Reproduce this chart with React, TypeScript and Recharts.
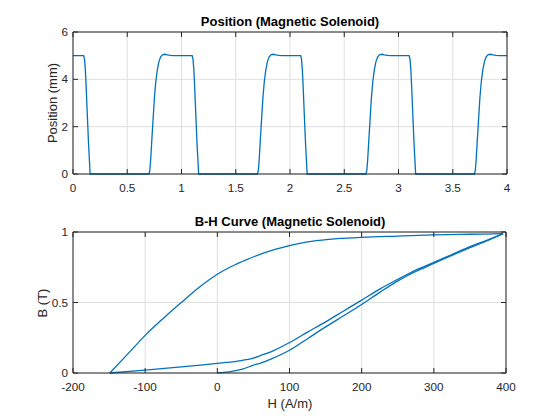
import React from "react";
import { LineChart, Line, XAxis, YAxis, CartesianGrid } from "recharts";

// Position (mm) over time (s)
const POSITION_POINTS: [number, number][] = [
  [0, 5.0], [0.098, 5.0], [0.106, 4.85], [0.114, 4.4], [0.122, 3.6], [0.131, 2.6], [0.143, 1.3], [0.158, 0],
  [0.7, 0], [0.708, 0.15], [0.716, 0.6], [0.726, 1.4], [0.738, 2.3], [0.75, 3.2], [0.763, 3.9], [0.777, 4.4],
  [0.792, 4.75], [0.808, 4.95], [0.825, 5.04], [0.845, 5.06], [0.87, 5.03], [0.9, 5.01], [0.93, 5.0],
  [1.098, 5.0], [1.106, 4.85], [1.114, 4.4], [1.122, 3.6], [1.131, 2.6], [1.143, 1.3], [1.158, 0],
  [1.7, 0], [1.708, 0.15], [1.716, 0.6], [1.726, 1.4], [1.738, 2.3], [1.75, 3.2], [1.763, 3.9], [1.777, 4.4],
  [1.792, 4.75], [1.808, 4.95], [1.825, 5.04], [1.845, 5.06], [1.87, 5.03], [1.9, 5.01], [1.93, 5.0],
  [2.098, 5.0], [2.106, 4.85], [2.114, 4.4], [2.122, 3.6], [2.131, 2.6], [2.143, 1.3], [2.158, 0],
  [2.7, 0], [2.708, 0.15], [2.716, 0.6], [2.726, 1.4], [2.738, 2.3], [2.75, 3.2], [2.763, 3.9], [2.777, 4.4],
  [2.792, 4.75], [2.808, 4.95], [2.825, 5.04], [2.845, 5.06], [2.87, 5.03], [2.9, 5.01], [2.93, 5.0],
  [3.098, 5.0], [3.106, 4.85], [3.114, 4.4], [3.122, 3.6], [3.131, 2.6], [3.143, 1.3], [3.158, 0],
  [3.7, 0], [3.708, 0.15], [3.716, 0.6], [3.726, 1.4], [3.738, 2.3], [3.75, 3.2], [3.763, 3.9], [3.777, 4.4],
  [3.792, 4.75], [3.808, 4.95], [3.825, 5.04], [3.845, 5.06], [3.87, 5.03], [3.9, 5.01], [3.93, 5.0], [4.0, 5.0],
];

// B-H loop (H in A/m, B in T), each branch listed by increasing H
const INITIAL_CURVE: [number, number][] = [
  [0, 0], [20, 0.012], [35, 0.028], [50, 0.056], [60, 0.07], [75, 0.1], [100, 0.161], [125, 0.243],
  [150, 0.327], [175, 0.406], [200, 0.486], [225, 0.572], [252, 0.659], [275, 0.72], [300, 0.777],
  [325, 0.834], [350, 0.889], [375, 0.94], [396, 0.988],
];
const DESCENDING_BRANCH: [number, number][] = [
  [-149, 0], [-125, 0.13], [-100, 0.267], [-75, 0.387], [-50, 0.5], [-25, 0.608], [0, 0.7], [20, 0.757],
  [40, 0.803], [60, 0.843], [80, 0.876], [100, 0.904], [125, 0.93], [155, 0.948], [200, 0.962],
  [250, 0.971], [300, 0.979], [350, 0.984], [396, 0.988],
];
const RETURN_BRANCH: [number, number][] = [
  [-149, 0], [-100, 0.02], [-50, 0.043], [0, 0.068], [35, 0.09], [50, 0.106], [60, 0.124], [75, 0.152],
  [100, 0.216], [125, 0.29], [150, 0.363], [175, 0.44], [200, 0.517], [225, 0.595], [252, 0.67],
  [275, 0.73], [300, 0.784], [325, 0.84], [350, 0.896], [375, 0.945], [396, 0.988],
];

const TIME_TICKS = [0, 0.5, 1, 1.5, 2, 2.5, 3, 3.5, 4];
const POSITION_TICKS = [0, 2, 4, 6];
const H_TICKS = [-200, -100, 0, 100, 200, 300, 400];
const B_TICKS = [0, 0.5, 1];

const positionData = POSITION_POINTS.map(([t, y]) => ({ t, y }));
const toBH = (pts: [number, number][]) => pts.map(([h, b]) => ({ h, b }));
const initialData = toBH(INITIAL_CURVE);
const descendingData = toBH(DESCENDING_BRANCH);
const returnData = toBH(RETURN_BRANCH);

const AXIS = "#262626";
const GRID = "#dfdfdf";
const BLUE = "#0072BD";
const FONT = "Arial, 'Liberation Sans', sans-serif";
const tickStyle = { fontSize: 11.7, fill: AXIS, fontFamily: FONT };
const blank = () => "";

function Title({ text, top }: { text: string; top: number }) {
  return (
    <div
      style={{
        position: "absolute", left: 73, width: 434, top, textAlign: "center",
        fontSize: 13, fontWeight: "bold", color: "#000", fontFamily: FONT, lineHeight: "15px",
      }}
    >
      {text}
    </div>
  );
}

function YLabel({ text, cx, cy }: { text: string; cx: number; cy: number }) {
  return (
    <div
      style={{
        position: "absolute", left: cx - 100, top: cy - 8, width: 200, height: 16, lineHeight: "16px",
        textAlign: "center", transform: "rotate(-90deg)", fontSize: 13, color: AXIS, fontFamily: FONT,
      }}
    >
      {text}
    </div>
  );
}

export default function App() {
  return (
    <div style={{ position: "absolute", left: 0, top: 0, width: 560, height: 420, background: "#fff" }}>
      <Title text="Position (Magnetic Solenoid)" top={14} />
      <YLabel text="Position (mm)" cx={53} cy={103} />
      <div style={{ position: "absolute", left: 0, top: 0 }}>
        <LineChart width={560} height={210} data={positionData} margin={{ top: 31, right: 52, bottom: 0, left: 0 }}>
          <CartesianGrid stroke={GRID} />
          <XAxis dataKey="t" type="number" domain={[0, 4]} ticks={TIME_TICKS} height={36}
            tickSize={-5} tickMargin={14.5} stroke={AXIS} tick={tickStyle} interval={0} />
          <XAxis xAxisId="top" dataKey="t" orientation="top" type="number" domain={[0, 4]} ticks={TIME_TICKS} height={1}
            tickSize={-5} stroke={AXIS} tickFormatter={blank} interval={0} />
          <YAxis type="number" domain={[0, 6]} ticks={POSITION_TICKS} width={73}
            tickSize={-5} tickMargin={10} stroke={AXIS} tick={tickStyle} interval={0} />
          <YAxis yAxisId="right" orientation="right" type="number" domain={[0, 6]} ticks={POSITION_TICKS} width={1}
            tickSize={-5} stroke={AXIS} tickFormatter={blank} interval={0} />
          {/* invisible copy so the box axes (top/right) get a domain */}
          <Line xAxisId="top" yAxisId="right" dataKey="y" stroke="none" dot={false} activeDot={false}
            legendType="none" isAnimationActive={false} />
          <Line dataKey="y" type="linear" stroke={BLUE} strokeWidth={1.3} dot={false} isAnimationActive={false} />
        </LineChart>
      </div>

      <Title text="B-H Curve (Magnetic Solenoid)" top={214} />
      <YLabel text="B (T)" cx={43} cy={302.5} />
      <div
        style={{
          position: "absolute", left: 73, width: 434, top: 396, textAlign: "center",
          fontSize: 13, color: AXIS, fontFamily: FONT, lineHeight: "15px",
        }}
      >
        H (A/m)
      </div>
      <div style={{ position: "absolute", left: 0, top: 210 }}>
        <LineChart width={560} height={210} margin={{ top: 21, right: 53, bottom: 0, left: 0 }}>
          <CartesianGrid stroke={GRID} />
          <XAxis dataKey="h" type="number" domain={[-200, 400]} ticks={H_TICKS} height={47}
            tickSize={-5} tickMargin={14.5} stroke={AXIS} tick={tickStyle} interval={0} allowDuplicatedCategory={false} />
          <XAxis xAxisId="top" dataKey="h" orientation="top" type="number" domain={[-200, 400]} ticks={H_TICKS} height={1}
            tickSize={-5} stroke={AXIS} tickFormatter={blank} interval={0} />
          <YAxis type="number" domain={[0, 1]} ticks={B_TICKS} width={73}
            tickSize={-5} tickMargin={10} stroke={AXIS} tick={tickStyle} interval={0} />
          <YAxis yAxisId="right" orientation="right" type="number" domain={[0, 1]} ticks={B_TICKS} width={1}
            tickSize={-5} stroke={AXIS} tickFormatter={blank} interval={0} />
          <Line xAxisId="top" yAxisId="right" data={initialData} dataKey="b" stroke="none" dot={false}
            activeDot={false} legendType="none" isAnimationActive={false} />
          <Line data={initialData} dataKey="b" type="monotoneX" stroke={BLUE} strokeWidth={1.3} dot={false} isAnimationActive={false} />
          <Line data={descendingData} dataKey="b" type="monotoneX" stroke={BLUE} strokeWidth={1.3} dot={false} isAnimationActive={false} />
          <Line data={returnData} dataKey="b" type="monotoneX" stroke={BLUE} strokeWidth={1.3} dot={false} isAnimationActive={false} />
        </LineChart>
      </div>
    </div>
  );
}
